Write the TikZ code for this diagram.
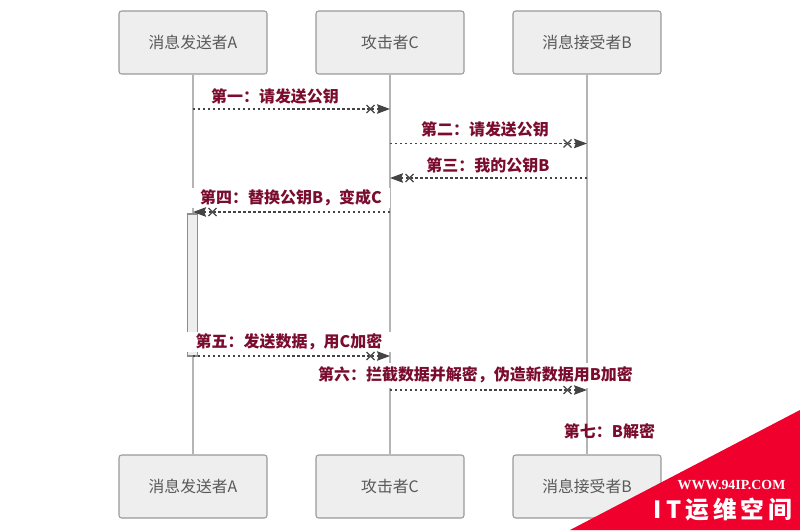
\documentclass[tikz,border=0pt]{standalone}
\usepackage{fontspec}
\setmainfont{Noto Sans CJK SC}
\newfontfamily\wwwfont{Liberation Serif}
\usetikzlibrary{arrows.meta, calc}
\definecolor{boxfill}{HTML}{EEEEEE}
\definecolor{boxline}{HTML}{999999}
\definecolor{lifeline}{HTML}{B4B4B4}
\definecolor{msgline}{HTML}{444444}
\definecolor{msgtext}{HTML}{7A0C2E}
\definecolor{markred}{HTML}{F0002C}
\tikzset{
  actor/.style={draw=boxline,fill=boxfill,rounded corners=1.5pt,line width=0.6pt,
    minimum width=2.96cm,minimum height=1.26cm,text=black!65,font=\fontsize{9}{11}\selectfont},
  life/.style={draw=lifeline,line width=0.6pt},
  msg/.style={msgline,line width=0.65pt,dash pattern=on 1.4pt off 1.43pt,
    -{Stealth[length=7.4pt,width=5.4pt,inset=1pt]}},
  msgx/.style={msgline,line width=0.65pt},
  msglabel/.style={text=msgtext,inner sep=0.5pt,font=\fontsize{9.1}{11}\selectfont\bfseries},
  blank/.style={msglabel,fill=white,inner sep=0pt}
}
\newcommand{\msgarrow}[2]{
  \draw[msg] (#1) -- (#2);
  \draw[msgx] ($(#2)!0.39cm!(#1)$) +(-4,-4) -- +(4,4) +(-4,4) -- +(4,-4);
}
\begin{document}
\begin{tikzpicture}[x=0.02cm,y=-0.02cm]
    \useasboundingbox (0,0) rectangle (800,530);

    \foreach \who/\xpos/\name in {A/193/消息发送者A,C/390/攻击者C,B/587/消息接受者B} {
      \node[actor] (head\who) at (\xpos,42.5) {\name};
      \node[actor] (foot\who) at (\xpos,486.5) {\name};
      \draw[life] (head\who) -- (foot\who);
    }

    % activation on A
    \node[draw=black!45,fill=boxfill,line width=0.6pt,minimum width=0.2cm,minimum height=2.84cm,inner sep=0pt] (act) at (192.75,285) {};

    \coordinate (a1) at (193,109);   \coordinate (c1) at (390,109);
    \coordinate (c2) at (390,143.5); \coordinate (b2) at (587,143.5);
    \coordinate (b3) at (587,178);   \coordinate (c3) at (390,178);
    \coordinate (c4) at (390,212);   \coordinate (a4) at (193,212);
    \coordinate (a5) at (193,356);   \coordinate (c5) at (390,356);
    \coordinate (c6) at (390,390);   \coordinate (b6) at (587,390);

    \node[msglabel] (m1) at (275,96) {第一：请发送公钥};
    \node[msglabel] (m2) at (485,129) {第二：请发送公钥};
    \node[msglabel] (m3) at (488,165) {第三：我的公钥B};
    \node[blank,minimum width=3.98cm,minimum height=0.4cm] (m4) at (291,198) {第四：替换公钥B，变成C};
    \node[blank,minimum width=4.12cm,minimum height=0.4cm] (m5) at (289,342) {第五：发送数据，用C加密};
    \node[blank,minimum width=6.4cm,minimum height=0.5cm] (m6) at (475.5,375) {第六：拦截数据并解密，伪造新数据用B加密};
    \node[msglabel] (m7) at (609.5,431) {第七：B解密};

    \msgarrow{a1}{c1}
    \msgarrow{c2}{b2}
    \msgarrow{b3}{c3}
    \msgarrow{c4}{a4}
    \msgarrow{a5}{c5}
    \msgarrow{c6}{b6}

    % corner mark
    \fill[markred] (800,410) -- (800,530) -- (570,530) -- cycle;
    \node[text=white,inner sep=0pt,font=\wwwfont\fontsize{7.9}{10}\selectfont\bfseries] (www) at (731.5,485.5) {WWW.94IP.COM};
    \node[text=white,inner sep=0pt,font=\fontsize{13.5}{16}\selectfont\bfseries] (brand) at (723,510) {I\,T\,运\,维\,空\,间};
\end{tikzpicture}
\end{document}
